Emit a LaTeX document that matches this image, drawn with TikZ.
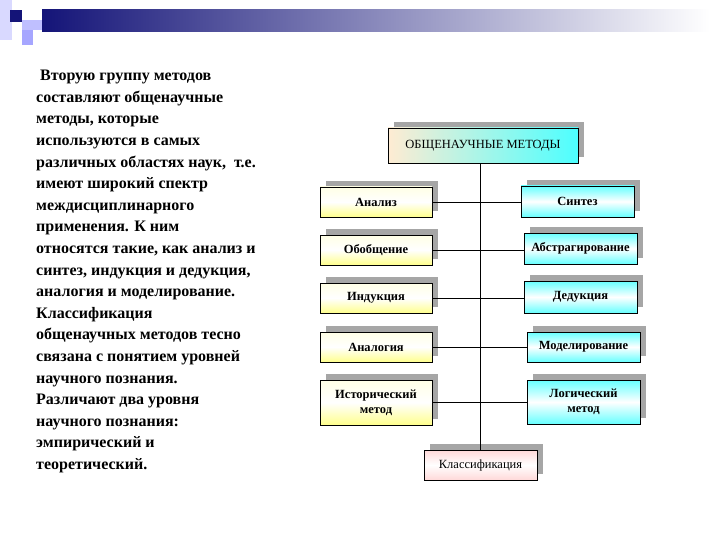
\documentclass[tikz,border=0pt]{standalone}
\usepackage{fontspec}
\setmainfont{Liberation Serif}
\usetikzlibrary{calc}
\definecolor{navy}{RGB}{20,20,120}
\tikzset{
  ybox/.style={draw=black, line width=0.8pt, top color=yellow!10, bottom color=yellow!45, middle color=white, minimum width=112pt, font=\fontsize{12.5}{15}\selectfont\bfseries, align=center, inner sep=1pt},
  cbox/.style={draw=black, line width=0.8pt, top color=cyan!60, bottom color=cyan!60, middle color=white, minimum width=113pt, font=\fontsize{12.5}{15}\selectfont\bfseries, align=center, inner sep=1pt},
  link/.style={draw=black, line width=0.7pt},
}
\begin{document}
\begin{tikzpicture}[x=1pt,y=-1pt]
\useasboundingbox (0,0) rectangle (720,540);
% top decoration
\fill[blue!15] (0,0) rectangle (12,40);
\fill[blue!25] (22,20) rectangle (56,30);
\fill[blue!35] (22,30) rectangle (33,45);
\shade[left color=navy, right color=white] (42,10) rectangle (710,32);
\fill[navy] (10,10) rectangle (22,22);
% text
\node[anchor=north west, align=left, font=\fontsize{16}{21.6}\selectfont\bfseries, inner sep=0pt] (txt) at (36,70) {\hspace*{4pt}Вторую группу методов\\
составляют общенаучные\\
методы, которые\\
используются в самых\\
различных областях наук,\ \ т.е.\\
имеют широкий спектр\\
междисциплинарного\\
применения. К ним\\
относятся такие, как анализ и\\
синтез, индукция и дедукция,\\
аналогия и моделирование.\\
Классификация\\
общенаучных методов тесно\\
связана с понятием уровней\\
научного познания.\\
Различают два уровня\\
научного познания:\\
эмпирический и\\
теоретический.};
% shadows
\foreach \a/\b/\c/\d in {388/128/578/163, 320/187/432/217, 320/235/432/265, 320/283/432/313, 320/332/432/362, 320/380/432/425, 521/186/634/217, 524/233/637/264, 524/281/637/313, 527/332/640/362, 527/380/640/424, 424/450/537/480}
  \fill[gray!70] (\a+6,\b-6) rectangle (\c+6,\d-6);
% header
\node[draw=black, line width=0.8pt, left color=yellow!25!pink!40, right color=cyan!70, minimum width=190pt, minimum height=35pt, font=\fontsize{12.5}{15}\selectfont] (h) at (483,145.5) {ОБЩЕНАУЧНЫЕ МЕТОДЫ};
\node[ybox, minimum height=30pt] (l1) at (376,202) {Анализ};
\node[ybox, minimum height=30pt] (l2) at (376,250) {Обобщение};
\node[ybox, minimum height=30pt] (l3) at (376,298) {Индукция};
\node[ybox, minimum height=30pt] (l4) at (376,347) {Аналогия};
\node[ybox, minimum height=45pt] (l5) at (376,402.5) {Исторический\\метод};
\node[cbox, minimum height=31pt] (r1) at (577.5,201.5) {Синтез};
\node[cbox, minimum height=31pt] (r2) at (580.5,248.5) {Абстрагирование};
\node[cbox, minimum height=32pt] (r3) at (580.5,297) {Дедукция};
\node[cbox, minimum height=30pt] (r4) at (583.5,347) {Моделирование};
\node[cbox, minimum height=44pt] (r5) at (583.5,402) {Логический\\метод};
\node[draw=black, line width=0.8pt, top color=pink!60, bottom color=pink!60, middle color=white, minimum width=113pt, minimum height=30pt, font=\fontsize{12.5}{15}\selectfont] (k) at (480.5,465) {Классификация};
% connectors
\draw[link] (h.south -| k.north) -- (k.north);
\foreach \i in {1,...,5} \draw[link] (l\i.east) -- (r\i.west |- l\i.east);
\end{tikzpicture}
\end{document}
